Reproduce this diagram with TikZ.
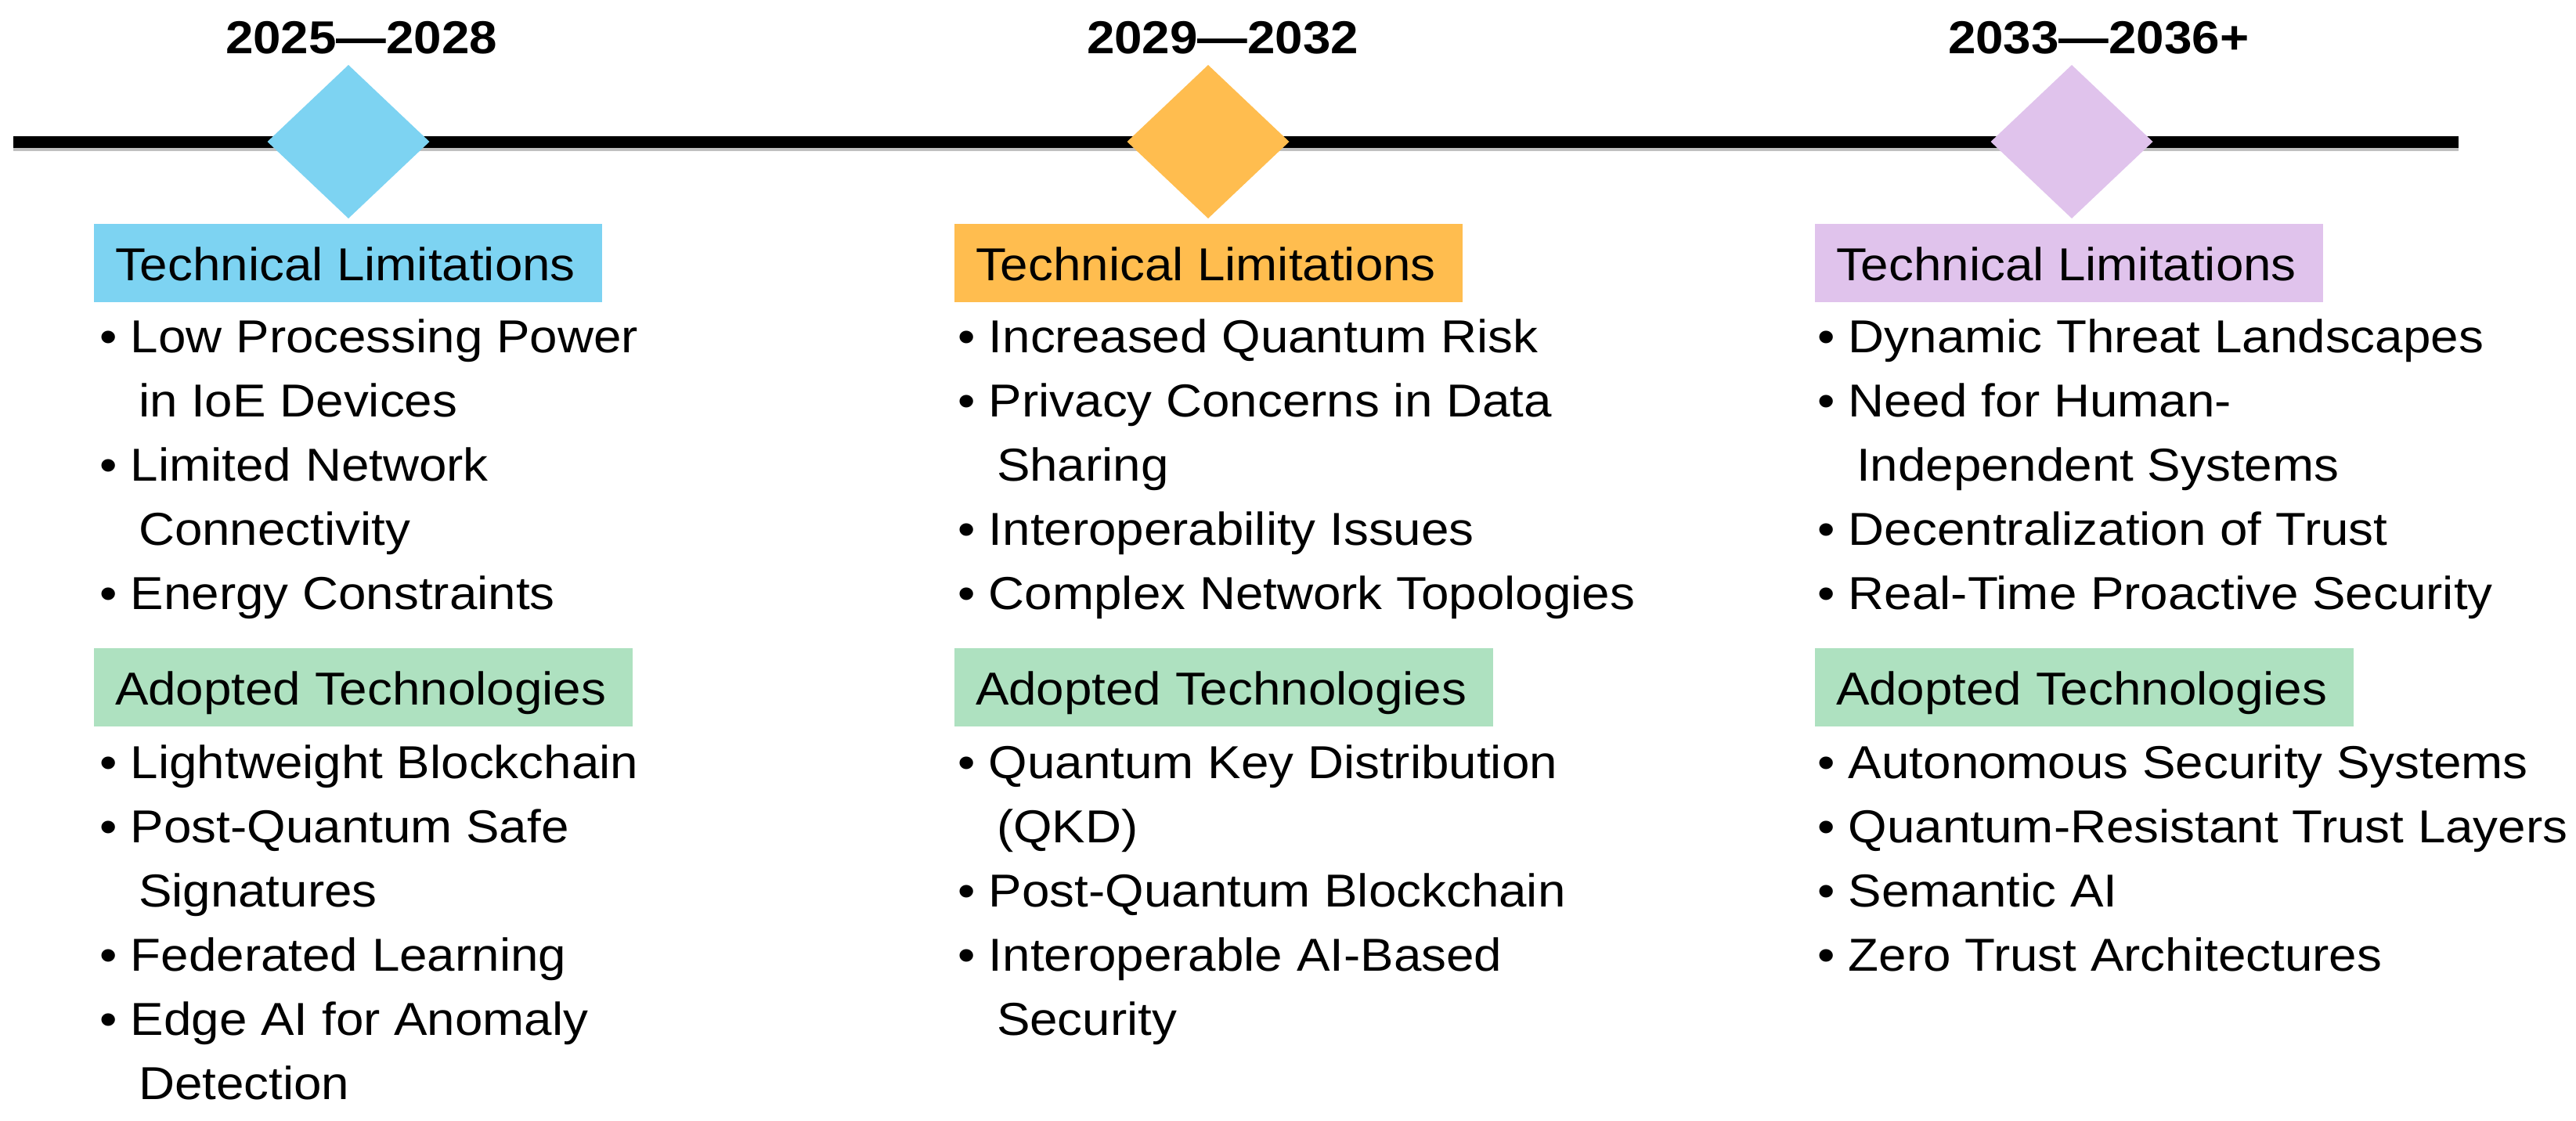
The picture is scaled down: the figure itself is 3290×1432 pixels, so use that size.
\documentclass[tikz,border=0pt]{standalone}
\usepackage{fontspec}
\setmainfont{Liberation Sans}[FakeStretch=1.08]
\usetikzlibrary{shapes.geometric}
\definecolor{cblue}{HTML}{7DD3F2}
\definecolor{corange}{HTML}{FFBD4F}
\definecolor{cpurple}{HTML}{E0C3EC}
\definecolor{cgreen}{HTML}{AEE1C0}
\begin{document}
\begin{tikzpicture}[x=1pt,y=-1pt,
  every node/.style={inner sep=0pt, outer sep=0pt},
  item/.style={anchor=base west, font=\fontsize{59}{70}\selectfont},
  lab/.style={anchor=north west, font=\fontsize{59}{70}\selectfont, inner xsep=27pt,
    minimum height=100pt, text height=44pt, text depth=0pt,
    execute at end node={\hspace*{7pt}}},
  yr/.style={anchor=base west, font=\fontsize{59}{70}\selectfont\bfseries},
  dia/.style={shape=diamond, minimum width=207pt, minimum height=196pt, inner sep=0pt}]
\useasboundingbox (0,0) rectangle (3290,1432);
% timeline
\coordinate (L) at (17,181);
\coordinate (R) at (3140,181);
\draw[line width=15pt, black!25] ([yshift=-4pt]L) -- ([yshift=-4pt]R);
\draw[line width=15pt, black] (L) -- (R);
% diamonds
\node[dia, fill=cblue] (d1) at (445,181) {};
\node[dia, fill=corange] (d2) at (1543,181) {};
\node[dia, fill=cpurple] (d3) at (2646,181) {};
% years
\node[yr] (y1) at (288,68) {2025---2028};
\node[yr] (y2) at (1388,68) {2029---2032};
\node[yr] (y3) at (2488,68) {2033---2036+};
% column 1
\node[lab, fill=cblue] (tl1) at (120,286) {Technical Limitations};
\node[item] (a1) at (127,450) {• Low Processing Power};
\node[item] (a2) at (177,532) {in IoE Devices};
\node[item] (a3) at (127,614) {• Limited Network};
\node[item] (a4) at (177,696) {Connectivity};
\node[item] (a5) at (127,778) {• Energy Constraints};
\node[lab, fill=cgreen] (at1) at (120,828) {Adopted Technologies};
\node[item] (b1) at (127,994) {• Lightweight Blockchain};
\node[item] (b2) at (127,1076) {• Post-Quantum Safe};
\node[item] (b3) at (177,1158) {Signatures};
\node[item] (b4) at (127,1240) {• Federated Learning};
\node[item] (b5) at (127,1322) {• Edge AI for Anomaly};
\node[item] (b6) at (177,1404) {Detection};
% column 2
\node[lab, fill=corange] (tl2) at (1219,286) {Technical Limitations};
\node[item] (e1) at (1223,450) {• Increased Quantum Risk};
\node[item] (e2) at (1223,532) {• Privacy Concerns in Data};
\node[item] (e3) at (1273,614) {Sharing};
\node[item] (e4) at (1223,696) {• Interoperability Issues};
\node[item] (e5) at (1223,778) {• Complex Network Topologies};
\node[lab, fill=cgreen] (at2) at (1219,828) {Adopted Technologies};
\node[item] (f1) at (1223,994) {• Quantum Key Distribution};
\node[item] (f2) at (1273,1076) {(QKD)};
\node[item] (f3) at (1223,1158) {• Post-Quantum Blockchain};
\node[item] (f4) at (1223,1240) {• Interoperable AI-Based};
\node[item] (f5) at (1273,1322) {Security};
% column 3
\node[lab, fill=cpurple] (tl3) at (2318,286) {Technical Limitations};
\node[item] (g1) at (2321,450) {• Dynamic Threat Landscapes};
\node[item] (g2) at (2321,532) {• Need for Human-};
\node[item] (g3) at (2371,614) {Independent Systems};
\node[item] (g4) at (2321,696) {• Decentralization of Trust};
\node[item] (g5) at (2321,778) {• Real-Time Proactive Security};
\node[lab, fill=cgreen] (at3) at (2318,828) {Adopted Technologies};
\node[item] (h1) at (2321,994) {• Autonomous Security Systems};
\node[item] (h2) at (2321,1076) {• Quantum-Resistant Trust Layers};
\node[item] (h3) at (2321,1158) {• Semantic AI};
\node[item] (h4) at (2321,1240) {• Zero Trust Architectures};
\end{tikzpicture}
\end{document}
